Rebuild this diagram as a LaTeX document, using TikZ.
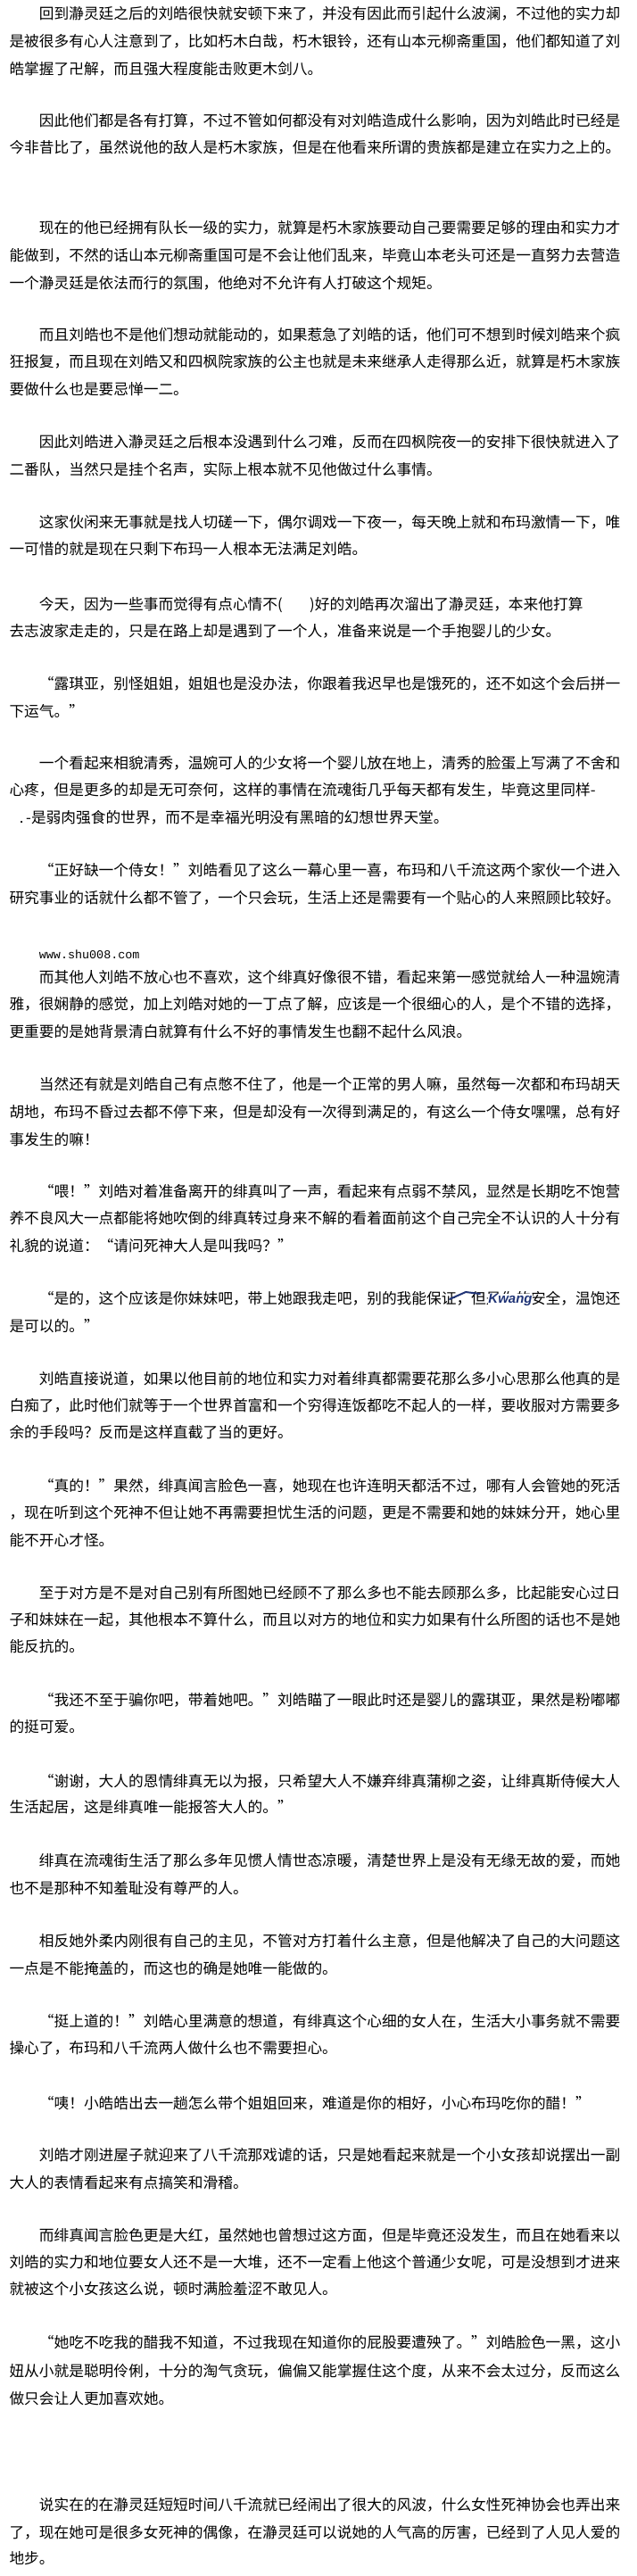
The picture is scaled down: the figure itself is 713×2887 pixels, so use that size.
\documentclass[tikz,border=0pt]{standalone}
\usepackage{fontspec}
\setmainfont{Noto Sans CJK SC}
\newfontfamily\urlfont{Liberation Mono}
\newfontfamily\stampfont{Liberation Sans}
\definecolor{stampblue}{RGB}{32,52,118}
\newcommand{\qo}{\makebox[1em][r]{“}}
\newcommand{\qc}{\makebox[1em][r]{”}}

\begin{document}
\begin{tikzpicture}[x=1pt, y=1pt,
    txt/.style={anchor=west, inner sep=0pt, text height=0.88em, text depth=0.12em,
                font=\fontsize{16.7}{30}\selectfont}]
    \useasboundingbox[fill=white] (0,0) rectangle (713,-2887);

    \node (p1a) at (43.7,-18) [txt] {回到瀞灵廷之后的刘皓很快就安顿下来了，并没有因此而引起什么波澜，不过他的实力却};
    \node (p1b) at (10.3,-49) [txt] {是被很多有心人注意到了，比如朽木白哉，朽木银铃，还有山本元柳斋重国，他们都知道了刘};
    \node (p1c) at (10.3,-80) [txt] {皓掌握了卍解，而且强大程度能击败更木剑八。};

    \node (p2a) at (43.7,-138) [txt] {因此他们都是各有打算，不过不管如何都没有对刘皓造成什么影响，因为刘皓此时已经是};
    \node (p2b) at (10.3,-168) [txt] {今非昔比了，虽然说他的敌人是朽木家族，但是在他看来所谓的贵族都是建立在实力之上的。};

    \node (p3a) at (43.7,-258) [txt] {现在的他已经拥有队长一级的实力，就算是朽木家族要动自己要需要足够的理由和实力才};
    \node (p3b) at (10.3,-289) [txt] {能做到，不然的话山本元柳斋重国可是不会让他们乱来，毕竟山本老头可还是一直努力去营造};
    \node (p3c) at (10.3,-320) [txt] {一个瀞灵廷是依法而行的氛围，他绝对不允许有人打破这个规矩。};

    \node (p4a) at (43.7,-378) [txt] {而且刘皓也不是他们想动就能动的，如果惹急了刘皓的话，他们可不想到时候刘皓来个疯};
    \node (p4b) at (10.3,-408) [txt] {狂报复，而且现在刘皓又和四枫院家族的公主也就是未来继承人走得那么近，就算是朽木家族};
    \node (p4c) at (10.3,-439) [txt] {要做什么也是要忌惮一二。};

    \node (p5a) at (43.7,-498) [txt] {因此刘皓进入瀞灵廷之后根本没遇到什么刁难，反而在四枫院夜一的安排下很快就进入了};
    \node (p5b) at (10.3,-529) [txt] {二番队，当然只是挂个名声，实际上根本就不见他做过什么事情。};

    \node (p6a) at (43.7,-588) [txt] {这家伙闲来无事就是找人切磋一下，偶尔调戏一下夜一，每天晚上就和布玛激情一下，唯};
    \node (p6b) at (10.3,-618) [txt] {一可惜的就是现在只剩下布玛一人根本无法满足刘皓。};

    \node (p7a) at (43.7,-680) [txt] {今天，因为一些事而觉得有点心情不\makebox[2.5em][s]{(\hfill)}好的刘皓再次溜出了瀞灵廷，本来他打算};
    \node (p7b) at (10.3,-710) [txt] {去志波家走走的，只是在路上却是遇到了一个人，准备来说是一个手抱婴儿的少女。};

    \node (p8a) at (43.7,-769) [txt] {\qo 露琪亚，别怪姐姐，姐姐也是没办法，你跟着我迟早也是饿死的，还不如这个会后拼一};
    \node (p8b) at (10.3,-800) [txt] {下运气。\qc};

    \node (p9a) at (43.7,-858) [txt] {一个看起来相貌清秀，温婉可人的少女将一个婴儿放在地上，清秀的脸蛋上写满了不舍和};
    \node (p9b) at (10.3,-888) [txt] {心疼，但是更多的却是无可奈何，这样的事情在流魂街几乎每天都有发生，毕竟这里同样-};
    \node (p9c) at (10.3,-919) [txt] {\makebox[1.47em][r]{.\,-}是弱肉强食的世界，而不是幸福光明没有黑暗的幻想世界天堂。};

    \node (p10a) at (43.7,-978) [txt] {\qo 正好缺一个侍女！\qc 刘皓看见了这么一幕心里一喜，布玛和八千流这两个家伙一个进入};
    \node (p10b) at (10.3,-1009) [txt] {研究事业的话就什么都不管了，一个只会玩，生活上还是需要有一个贴心的人来照顾比较好。};

    \node (url) at (43.7,-1071) [txt, font=\urlfont\fontsize{13.4}{13.4}\selectfont] {www.shu008.com};

    \node (p11a) at (43.7,-1098) [txt] {而其他人刘皓不放心也不喜欢，这个绯真好像很不错，看起来第一感觉就给人一种温婉清};
    \node (p11b) at (10.3,-1128) [txt] {雅，很娴静的感觉，加上刘皓对她的一丁点了解，应该是一个很细心的人，是个不错的选择，};
    \node (p11c) at (10.3,-1159) [txt] {更重要的是她背景清白就算有什么不好的事情发生也翻不起什么风浪。};

    \node (p12a) at (43.7,-1218) [txt] {当然还有就是刘皓自己有点憋不住了，他是一个正常的男人嘛，虽然每一次都和布玛胡天};
    \node (p12b) at (10.3,-1249) [txt] {胡地，布玛不昏过去都不停下来，但是却没有一次得到满足的，有这么一个侍女嘿嘿，总有好};
    \node (p12c) at (10.3,-1280) [txt] {事发生的嘛！};

    \node (p13a) at (43.7,-1338) [txt] {\qo 喂！\qc 刘皓对着准备离开的绯真叫了一声，看起来有点弱不禁风，显然是长期吃不饱营};
    \node (p13b) at (10.3,-1368) [txt] {养不良风大一点都能将她吹倒的绯真转过身来不解的看着面前这个自己完全不认识的人十分有};
    \node (p13c) at (10.3,-1399) [txt] {礼貌的说道：\qo 请问死神大人是叫我吗？\qc};

    \node (p14a) at (43.7,-1458) [txt] {\qo 是的，这个应该是你妹妹吧，带上她跟我走吧，别的我能保证，但是你的安全，温饱还};
    \node (p14b) at (10.3,-1489) [txt] {是可以的。\qc};

    % stamp over the line
    \node (stamp) at (572,-1457) [fill=white, inner sep=0.5pt, text=stampblue,
        font=\stampfont\bfseries\itshape\fontsize{15}{15}\selectfont] {Kwang};
    \draw[stampblue, line width=2pt, line cap=round] (504,-1456) -- (522,-1448) -- (538,-1450);

    \node (p15a) at (43.7,-1548) [txt] {刘皓直接说道，如果以他目前的地位和实力对着绯真都需要花那么多小心思那么他真的是};
    \node (p15b) at (10.3,-1578) [txt] {白痴了，此时他们就等于一个世界首富和一个穷得连饭都吃不起人的一样，要收服对方需要多};
    \node (p15c) at (10.3,-1608) [txt] {余的手段吗？反而是这样直截了当的更好。};

    \node (p16a) at (43.7,-1668) [txt] {\qo 真的！\qc 果然，绯真闻言脸色一喜，她现在也许连明天都活不过，哪有人会管她的死活};
    \node (p16b) at (10.3,-1698) [txt] {，现在听到这个死神不但让她不再需要担忧生活的问题，更是不需要和她的妹妹分开，她心里};
    \node (p16c) at (10.3,-1729) [txt] {能不开心才怪。};

    \node (p17a) at (43.7,-1788) [txt] {至于对方是不是对自己别有所图她已经顾不了那么多也不能去顾那么多，比起能安心过日};
    \node (p17b) at (10.3,-1818) [txt] {子和妹妹在一起，其他根本不算什么，而且以对方的地位和实力如果有什么所图的话也不是她};
    \node (p17c) at (10.3,-1848) [txt] {能反抗的。};

    \node (p18a) at (43.7,-1908) [txt] {\qo 我还不至于骗你吧，带着她吧。\qc 刘皓瞄了一眼此时还是婴儿的露琪亚，果然是粉嘟嘟};
    \node (p18b) at (10.3,-1938) [txt] {的挺可爱。};

    \node (p19a) at (43.7,-1999) [txt] {\qo 谢谢，大人的恩情绯真无以为报，只希望大人不嫌弃绯真蒲柳之姿，让绯真斯侍候大人};
    \node (p19b) at (10.3,-2028) [txt] {生活起居，这是绯真唯一能报答大人的。\qc};

    \node (p20a) at (43.7,-2088) [txt] {绯真在流魂街生活了那么多年见惯人情世态凉暖，清楚世界上是没有无缘无故的爱，而她};
    \node (p20b) at (10.3,-2119) [txt] {也不是那种不知羞耻没有尊严的人。};

    \node (p21a) at (43.7,-2178) [txt] {相反她外柔内刚很有自己的主见，不管对方打着什么主意，但是他解决了自己的大问题这};
    \node (p21b) at (10.3,-2209) [txt] {一点是不能掩盖的，而这也的确是她唯一能做的。};

    \node (p22a) at (43.7,-2268) [txt] {\qo 挺上道的！\qc 刘皓心里满意的想道，有绯真这个心细的女人在，生活大小事务就不需要};
    \node (p22b) at (10.3,-2298) [txt] {操心了，布玛和八千流两人做什么也不需要担心。};

    \node (p23a) at (43.7,-2360) [txt] {\qo 咦！小皓皓出去一趟怎么带个姐姐回来，难道是你的相好，小心布玛吃你的醋！\qc};

    \node (p24a) at (43.7,-2418) [txt] {刘皓才刚进屋子就迎来了八千流那戏谑的话，只是她看起来就是一个小女孩却说摆出一副};
    \node (p24b) at (10.3,-2449) [txt] {大人的表情看起来有点搞笑和滑稽。};

    \node (p25a) at (43.7,-2508) [txt] {而绯真闻言脸色更是大红，虽然她也曾想过这方面，但是毕竟还没发生，而且在她看来以};
    \node (p25b) at (10.3,-2538) [txt] {刘皓的实力和地位要女人还不是一大堆，还不一定看上他这个普通少女呢，可是没想到才进来};
    \node (p25c) at (10.3,-2568) [txt] {就被这个小女孩这么说，顿时满脸羞涩不敢见人。};

    \node (p26a) at (43.7,-2628) [txt] {\qo 她吃不吃我的醋我不知道，不过我现在知道你的屁股要遭殃了。\qc 刘皓脸色一黑，这小};
    \node (p26b) at (10.3,-2660) [txt] {妞从小就是聪明伶俐，十分的淘气贪玩，偏偏又能掌握住这个度，从来不会太过分，反而这么};
    \node (p26c) at (10.3,-2691) [txt] {做只会让人更加喜欢她。};

    \node (p27a) at (43.7,-2810) [txt] {说实在的在瀞灵廷短短时间八千流就已经闹出了很大的风波，什么女性死神协会也弄出来};
    \node (p27b) at (10.3,-2841) [txt] {了，现在她可是很多女死神的偶像，在瀞灵廷可以说她的人气高的厉害，已经到了人见人爱的};
    \node (p27c) at (10.3,-2870) [txt] {地步。};
\end{tikzpicture}
\end{document}
